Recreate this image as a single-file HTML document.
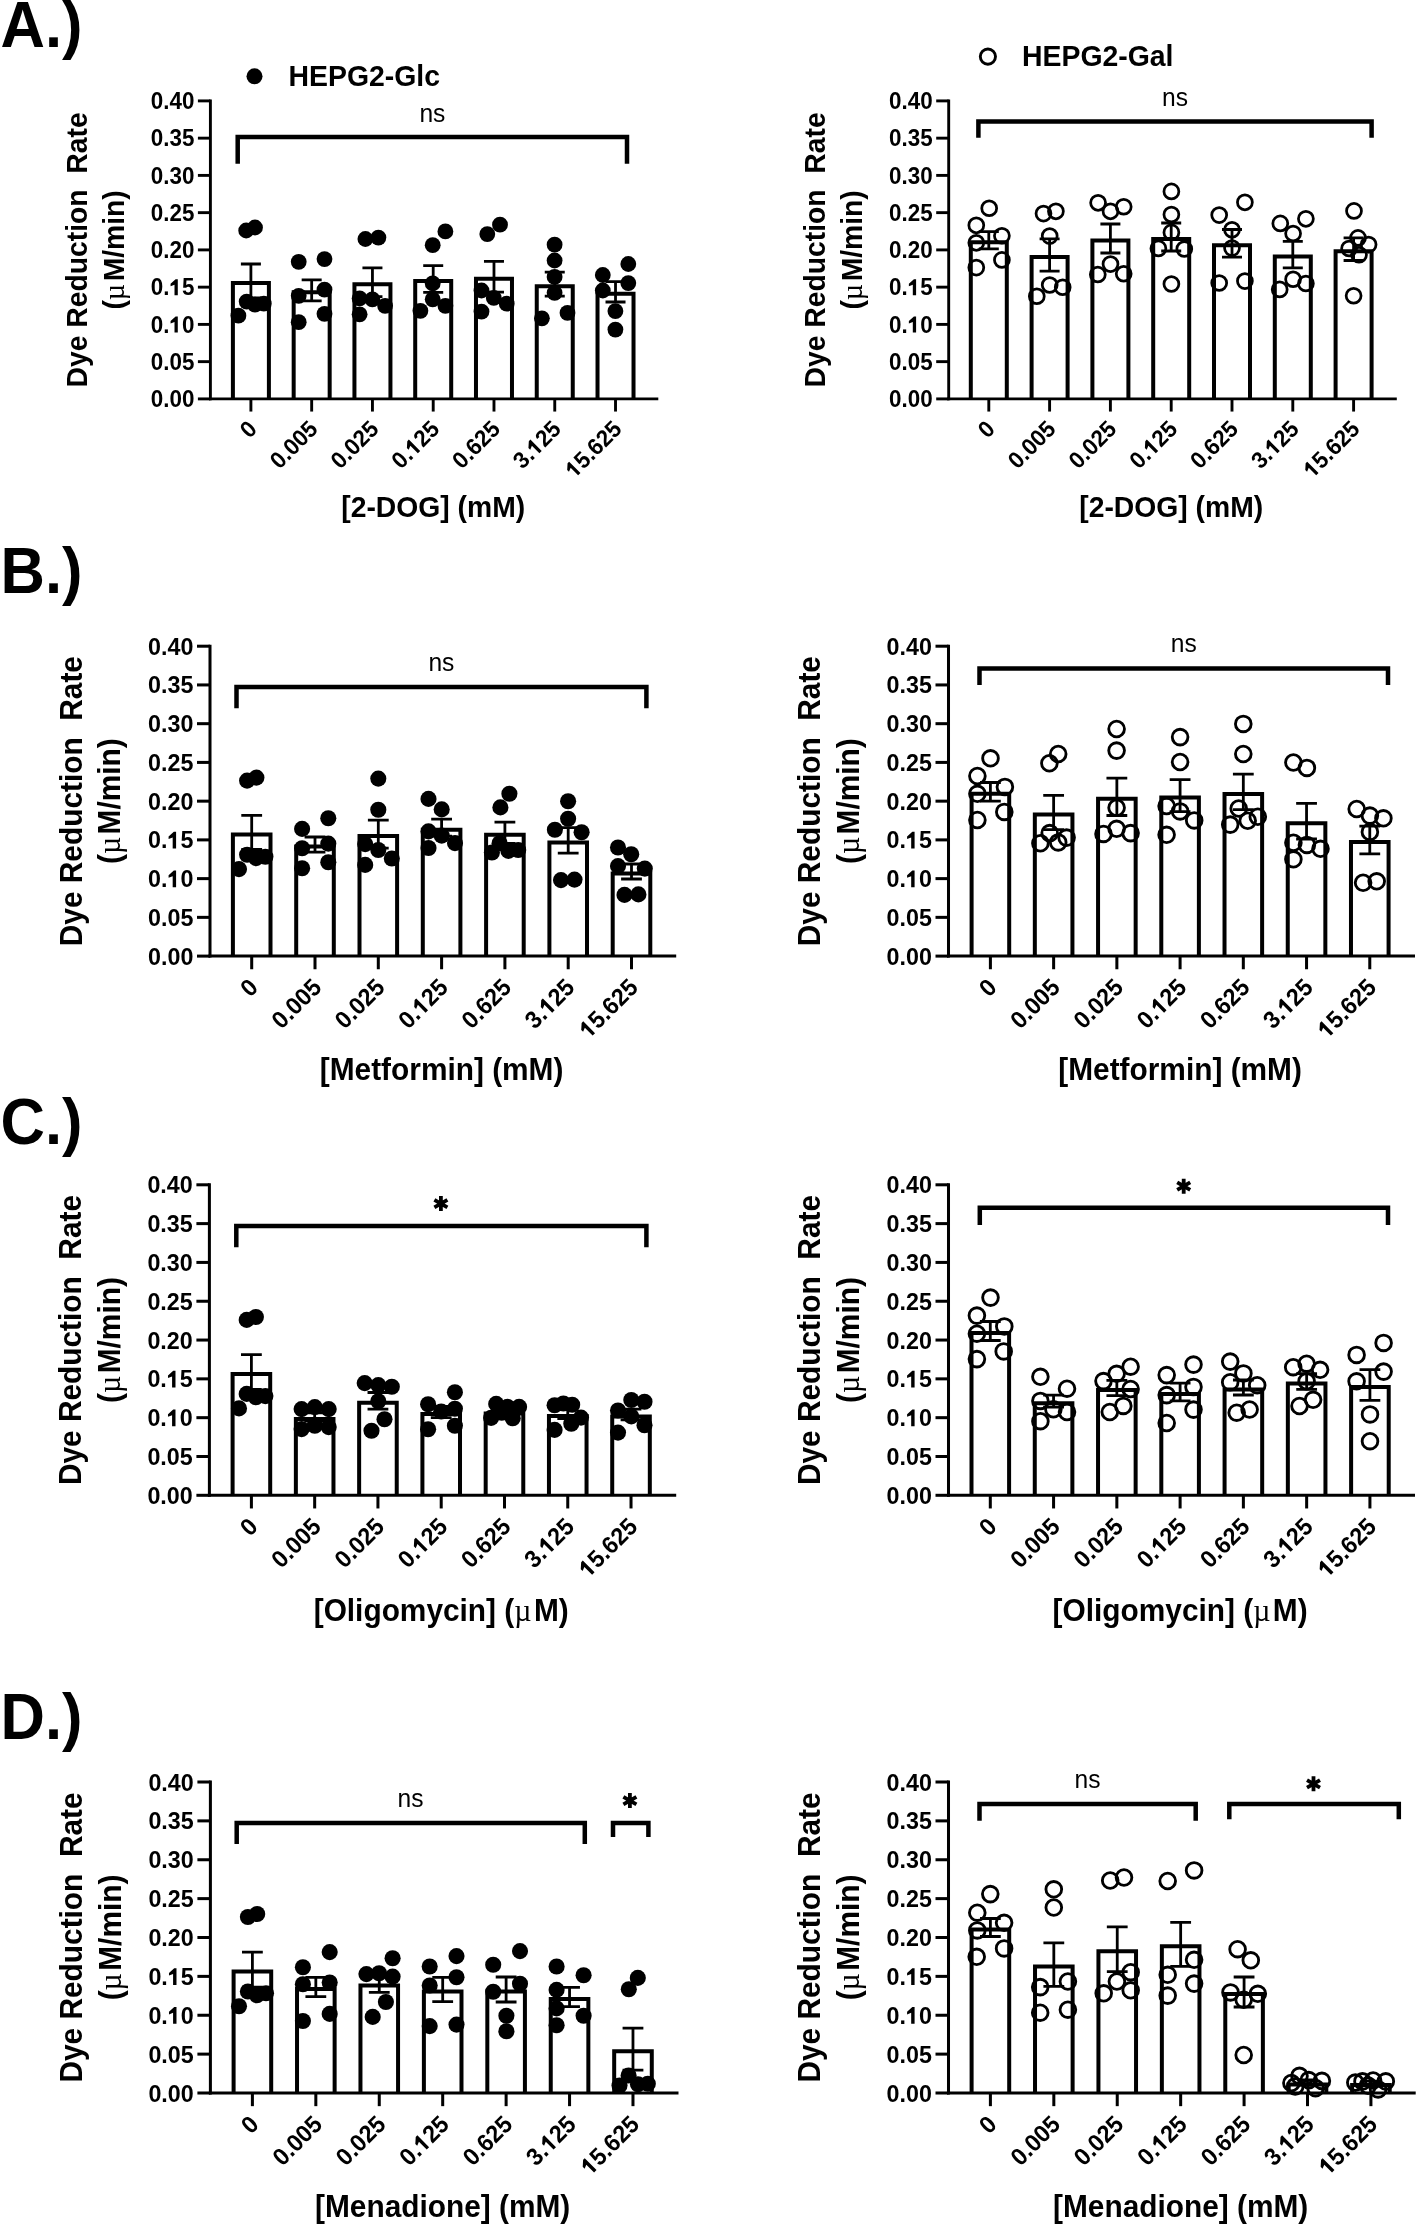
<!DOCTYPE html><html><head><meta charset="utf-8"><style>html,body{margin:0;padding:0;background:#fff;}svg{display:block;filter:grayscale(1);}</style></head><body><svg width="1418" height="2225" viewBox="0 0 1418 2225" font-family='"Liberation Sans", sans-serif'><rect width="1418" height="2225" fill="#fff"/><text transform="translate(0.5 47) scale(1 1.04)" font-size="61.5" font-weight="bold">A.)</text><text transform="translate(0.5 592.8) scale(1 1.04)" font-size="61.5" font-weight="bold">B.)</text><text transform="translate(0.5 1143.6) scale(1 1.04)" font-size="61.5" font-weight="bold">C.)</text><text transform="translate(0.5 1738.8) scale(1 1.04)" font-size="61.5" font-weight="bold">D.)</text><circle cx="254.5" cy="76.3" r="8.0" fill="#000"/><text transform="translate(288.5 86) scale(1 1.04)" font-size="28.4" font-weight="bold">HEPG2-Glc</text><circle cx="987.9" cy="56.6" r="7.6" fill="#fff" stroke="#000" stroke-width="2.9"/><text transform="translate(1022 66.1) scale(1 1.04)" font-size="28.4" font-weight="bold">HEPG2-Gal</text><g><path d="M210.4 99.45V400.35" stroke="#000" stroke-width="2.9" fill="none"/><path d="M208.95 398.9H658.3" stroke="#000" stroke-width="2.9" fill="none"/><path d="M197.9 398.9H210.4" stroke="#000" stroke-width="2.9"/><text transform="translate(194.4 407.1) scale(1 1.04)" font-size="22.4" font-weight="bold" text-anchor="end">0.00</text><path d="M197.9 361.65H210.4" stroke="#000" stroke-width="2.9"/><text transform="translate(194.4 369.85) scale(1 1.04)" font-size="22.4" font-weight="bold" text-anchor="end">0.05</text><path d="M197.9 324.4H210.4" stroke="#000" stroke-width="2.9"/><g transform="translate(194.4 332.6) scale(1 1.04)"><text font-size="22.4" font-weight="bold" text-anchor="end">0. 0</text><path transform="translate(-24.92 0) scale(0.01094 -0.01094)" d="M460 0L460 930L100 790L100 1015L560 1409L760 1409L760 0Z"/></g><path d="M197.9 287.15H210.4" stroke="#000" stroke-width="2.9"/><g transform="translate(194.4 295.35) scale(1 1.04)"><text font-size="22.4" font-weight="bold" text-anchor="end">0. 5</text><path transform="translate(-24.92 0) scale(0.01094 -0.01094)" d="M460 0L460 930L100 790L100 1015L560 1409L760 1409L760 0Z"/></g><path d="M197.9 249.9H210.4" stroke="#000" stroke-width="2.9"/><text transform="translate(194.4 258.1) scale(1 1.04)" font-size="22.4" font-weight="bold" text-anchor="end">0.20</text><path d="M197.9 212.65H210.4" stroke="#000" stroke-width="2.9"/><text transform="translate(194.4 220.85) scale(1 1.04)" font-size="22.4" font-weight="bold" text-anchor="end">0.25</text><path d="M197.9 175.4H210.4" stroke="#000" stroke-width="2.9"/><text transform="translate(194.4 183.6) scale(1 1.04)" font-size="22.4" font-weight="bold" text-anchor="end">0.30</text><path d="M197.9 138.15H210.4" stroke="#000" stroke-width="2.9"/><text transform="translate(194.4 146.35) scale(1 1.04)" font-size="22.4" font-weight="bold" text-anchor="end">0.35</text><path d="M197.9 100.9H210.4" stroke="#000" stroke-width="2.9"/><text transform="translate(194.4 109.1) scale(1 1.04)" font-size="22.4" font-weight="bold" text-anchor="end">0.40</text><path d="M250.9 398.9V411.55" stroke="#000" stroke-width="2.9"/><text transform="translate(258.4 430.4) rotate(-45) scale(1 1.04)" font-size="22.4" font-weight="bold" text-anchor="end">0</text><path d="M311.67 398.9V411.55" stroke="#000" stroke-width="2.9"/><text transform="translate(319.17 430.4) rotate(-45) scale(1 1.04)" font-size="22.4" font-weight="bold" text-anchor="end">0.005</text><path d="M372.44 398.9V411.55" stroke="#000" stroke-width="2.9"/><text transform="translate(379.94 430.4) rotate(-45) scale(1 1.04)" font-size="22.4" font-weight="bold" text-anchor="end">0.025</text><path d="M433.21 398.9V411.55" stroke="#000" stroke-width="2.9"/><g transform="translate(440.71 430.4) rotate(-45) scale(1 1.04)"><text font-size="22.4" font-weight="bold" text-anchor="end">0. 25</text><path transform="translate(-37.37 0) scale(0.01094 -0.01094)" d="M460 0L460 930L100 790L100 1015L560 1409L760 1409L760 0Z"/></g><path d="M493.98 398.9V411.55" stroke="#000" stroke-width="2.9"/><text transform="translate(501.48 430.4) rotate(-45) scale(1 1.04)" font-size="22.4" font-weight="bold" text-anchor="end">0.625</text><path d="M554.75 398.9V411.55" stroke="#000" stroke-width="2.9"/><g transform="translate(562.25 430.4) rotate(-45) scale(1 1.04)"><text font-size="22.4" font-weight="bold" text-anchor="end">3. 25</text><path transform="translate(-37.37 0) scale(0.01094 -0.01094)" d="M460 0L460 930L100 790L100 1015L560 1409L760 1409L760 0Z"/></g><path d="M615.52 398.9V411.55" stroke="#000" stroke-width="2.9"/><g transform="translate(623.02 430.4) rotate(-45) scale(1 1.04)"><text font-size="22.4" font-weight="bold" text-anchor="end"> 5.625</text><path transform="translate(-68.51 0) scale(0.01094 -0.01094)" d="M460 0L460 930L100 790L100 1015L560 1409L760 1409L760 0Z"/></g><text transform="translate(433.21 516.9) scale(1 1.04)" font-size="28.3" font-weight="bold" text-anchor="middle">[2-DOG] (mM)</text><text transform="translate(87 249.9) rotate(-90) scale(1 1.04)" font-size="28.3" font-weight="bold" text-anchor="middle">Dye Reduction  Rate</text><text transform="translate(124 249.9) rotate(-90) scale(1 1.04)" font-size="28.3" font-weight="bold" text-anchor="middle">(<tspan font-family="Liberation Serif" font-weight="normal" letter-spacing="2.5">µ</tspan>M/min)</text><path d="M250.9 264V298 M240.9 264H260.9 M240.9 298H260.9" stroke="#000" stroke-width="2.8" fill="none"/><path d="M232.9 398.9V283H268.9V398.9" fill="none" stroke="#000" stroke-width="4" stroke-linejoin="miter"/><path d="M311.67 279.8V300.8 M301.67 279.8H321.67 M301.67 300.8H321.67" stroke="#000" stroke-width="2.8" fill="none"/><path d="M293.67 398.9V292.3H329.67V398.9" fill="none" stroke="#000" stroke-width="4" stroke-linejoin="miter"/><path d="M372.44 267.8V296.6 M362.44 267.8H382.44 M362.44 296.6H382.44" stroke="#000" stroke-width="2.8" fill="none"/><path d="M354.44 398.9V284.2H390.44V398.9" fill="none" stroke="#000" stroke-width="4" stroke-linejoin="miter"/><path d="M433.21 265.6V292.4 M423.21 265.6H443.21 M423.21 292.4H443.21" stroke="#000" stroke-width="2.8" fill="none"/><path d="M415.21 398.9V281H451.21V398.9" fill="none" stroke="#000" stroke-width="4" stroke-linejoin="miter"/><path d="M493.98 261.3V292.1 M483.98 261.3H503.98 M483.98 292.1H503.98" stroke="#000" stroke-width="2.8" fill="none"/><path d="M475.98 398.9V278.7H511.98V398.9" fill="none" stroke="#000" stroke-width="4" stroke-linejoin="miter"/><path d="M554.75 272.2V296.2 M544.75 272.2H564.75 M544.75 296.2H564.75" stroke="#000" stroke-width="2.8" fill="none"/><path d="M536.75 398.9V286.2H572.75V398.9" fill="none" stroke="#000" stroke-width="4" stroke-linejoin="miter"/><path d="M615.52 281.6V302 M605.52 281.6H625.52 M605.52 302H625.52" stroke="#000" stroke-width="2.8" fill="none"/><path d="M597.52 398.9V293.8H633.52V398.9" fill="none" stroke="#000" stroke-width="4" stroke-linejoin="miter"/><circle cx="246.2" cy="230.5" r="7.9"/><circle cx="255" cy="227.5" r="7.9"/><circle cx="246.7" cy="301.6" r="7.9"/><circle cx="255" cy="304.6" r="7.9"/><circle cx="263.8" cy="303.7" r="7.9"/><circle cx="238.4" cy="315.7" r="7.9"/><circle cx="298.7" cy="261.8" r="7.9"/><circle cx="324.5" cy="259.1" r="7.9"/><circle cx="324.5" cy="289.6" r="7.9"/><circle cx="298.7" cy="295.8" r="7.9"/><circle cx="324.5" cy="313.8" r="7.9"/><circle cx="298.7" cy="322.2" r="7.9"/><circle cx="365.4" cy="239" r="7.9"/><circle cx="378.4" cy="237.6" r="7.9"/><circle cx="359.6" cy="298.4" r="7.9"/><circle cx="372.4" cy="299.3" r="7.9"/><circle cx="385.1" cy="305.8" r="7.9"/><circle cx="359.6" cy="314.3" r="7.9"/><circle cx="432.7" cy="245.2" r="7.9"/><circle cx="445.4" cy="231.4" r="7.9"/><circle cx="432.7" cy="283.4" r="7.9"/><circle cx="432.7" cy="299.3" r="7.9"/><circle cx="420.4" cy="310.8" r="7.9"/><circle cx="445.4" cy="305.8" r="7.9"/><circle cx="487.3" cy="234.1" r="7.9"/><circle cx="500" cy="224.7" r="7.9"/><circle cx="481.5" cy="290.5" r="7.9"/><circle cx="493.8" cy="297.9" r="7.9"/><circle cx="506.7" cy="303.7" r="7.9"/><circle cx="481.5" cy="311.6" r="7.9"/><circle cx="554.6" cy="244.7" r="7.9"/><circle cx="554.6" cy="260.5" r="7.9"/><circle cx="554.6" cy="276.9" r="7.9"/><circle cx="554.6" cy="292.8" r="7.9"/><circle cx="541.9" cy="318.3" r="7.9"/><circle cx="567.5" cy="312.9" r="7.9"/><circle cx="602.8" cy="275" r="7.9"/><circle cx="628.3" cy="264" r="7.9"/><circle cx="628.3" cy="283.1" r="7.9"/><circle cx="602.8" cy="290.5" r="7.9"/><circle cx="615.4" cy="311.1" r="7.9"/><circle cx="615.4" cy="329.6" r="7.9"/><path d="M237.7 163.7V137H627V163.7" stroke="#000" stroke-width="4.5" fill="none" stroke-linejoin="miter"/><text transform="translate(432.4 122.1) scale(1 1.04)" font-size="24.6" text-anchor="middle">ns</text></g><g><path d="M948.7 99.45V400.35" stroke="#000" stroke-width="2.9" fill="none"/><path d="M947.25 398.9H1396.8" stroke="#000" stroke-width="2.9" fill="none"/><path d="M936.2 398.9H948.7" stroke="#000" stroke-width="2.9"/><text transform="translate(932.7 407.1) scale(1 1.04)" font-size="22.4" font-weight="bold" text-anchor="end">0.00</text><path d="M936.2 361.65H948.7" stroke="#000" stroke-width="2.9"/><text transform="translate(932.7 369.85) scale(1 1.04)" font-size="22.4" font-weight="bold" text-anchor="end">0.05</text><path d="M936.2 324.4H948.7" stroke="#000" stroke-width="2.9"/><g transform="translate(932.7 332.6) scale(1 1.04)"><text font-size="22.4" font-weight="bold" text-anchor="end">0. 0</text><path transform="translate(-24.92 0) scale(0.01094 -0.01094)" d="M460 0L460 930L100 790L100 1015L560 1409L760 1409L760 0Z"/></g><path d="M936.2 287.15H948.7" stroke="#000" stroke-width="2.9"/><g transform="translate(932.7 295.35) scale(1 1.04)"><text font-size="22.4" font-weight="bold" text-anchor="end">0. 5</text><path transform="translate(-24.92 0) scale(0.01094 -0.01094)" d="M460 0L460 930L100 790L100 1015L560 1409L760 1409L760 0Z"/></g><path d="M936.2 249.9H948.7" stroke="#000" stroke-width="2.9"/><text transform="translate(932.7 258.1) scale(1 1.04)" font-size="22.4" font-weight="bold" text-anchor="end">0.20</text><path d="M936.2 212.65H948.7" stroke="#000" stroke-width="2.9"/><text transform="translate(932.7 220.85) scale(1 1.04)" font-size="22.4" font-weight="bold" text-anchor="end">0.25</text><path d="M936.2 175.4H948.7" stroke="#000" stroke-width="2.9"/><text transform="translate(932.7 183.6) scale(1 1.04)" font-size="22.4" font-weight="bold" text-anchor="end">0.30</text><path d="M936.2 138.15H948.7" stroke="#000" stroke-width="2.9"/><text transform="translate(932.7 146.35) scale(1 1.04)" font-size="22.4" font-weight="bold" text-anchor="end">0.35</text><path d="M936.2 100.9H948.7" stroke="#000" stroke-width="2.9"/><text transform="translate(932.7 109.1) scale(1 1.04)" font-size="22.4" font-weight="bold" text-anchor="end">0.40</text><path d="M988.8 398.9V411.55" stroke="#000" stroke-width="2.9"/><text transform="translate(996.3 430.4) rotate(-45) scale(1 1.04)" font-size="22.4" font-weight="bold" text-anchor="end">0</text><path d="M1049.6 398.9V411.55" stroke="#000" stroke-width="2.9"/><text transform="translate(1057.1 430.4) rotate(-45) scale(1 1.04)" font-size="22.4" font-weight="bold" text-anchor="end">0.005</text><path d="M1110.4 398.9V411.55" stroke="#000" stroke-width="2.9"/><text transform="translate(1117.9 430.4) rotate(-45) scale(1 1.04)" font-size="22.4" font-weight="bold" text-anchor="end">0.025</text><path d="M1171.2 398.9V411.55" stroke="#000" stroke-width="2.9"/><g transform="translate(1178.7 430.4) rotate(-45) scale(1 1.04)"><text font-size="22.4" font-weight="bold" text-anchor="end">0. 25</text><path transform="translate(-37.37 0) scale(0.01094 -0.01094)" d="M460 0L460 930L100 790L100 1015L560 1409L760 1409L760 0Z"/></g><path d="M1232 398.9V411.55" stroke="#000" stroke-width="2.9"/><text transform="translate(1239.5 430.4) rotate(-45) scale(1 1.04)" font-size="22.4" font-weight="bold" text-anchor="end">0.625</text><path d="M1292.8 398.9V411.55" stroke="#000" stroke-width="2.9"/><g transform="translate(1300.3 430.4) rotate(-45) scale(1 1.04)"><text font-size="22.4" font-weight="bold" text-anchor="end">3. 25</text><path transform="translate(-37.37 0) scale(0.01094 -0.01094)" d="M460 0L460 930L100 790L100 1015L560 1409L760 1409L760 0Z"/></g><path d="M1353.6 398.9V411.55" stroke="#000" stroke-width="2.9"/><g transform="translate(1361.1 430.4) rotate(-45) scale(1 1.04)"><text font-size="22.4" font-weight="bold" text-anchor="end"> 5.625</text><path transform="translate(-68.51 0) scale(0.01094 -0.01094)" d="M460 0L460 930L100 790L100 1015L560 1409L760 1409L760 0Z"/></g><text transform="translate(1171.2 516.9) scale(1 1.04)" font-size="28.3" font-weight="bold" text-anchor="middle">[2-DOG] (mM)</text><text transform="translate(825.3 249.9) rotate(-90) scale(1 1.04)" font-size="28.3" font-weight="bold" text-anchor="middle">Dye Reduction  Rate</text><text transform="translate(862.3 249.9) rotate(-90) scale(1 1.04)" font-size="28.3" font-weight="bold" text-anchor="middle">(<tspan font-family="Liberation Serif" font-weight="normal" letter-spacing="2.5">µ</tspan>M/min)</text><path d="M988.8 231.6V248.8 M978.8 231.6H998.8 M978.8 248.8H998.8" stroke="#000" stroke-width="2.8" fill="none"/><path d="M970.8 398.9V242.2H1006.8V398.9" fill="none" stroke="#000" stroke-width="4" stroke-linejoin="miter"/><path d="M1049.6 238.8V271.2 M1039.6 238.8H1059.6 M1039.6 271.2H1059.6" stroke="#000" stroke-width="2.8" fill="none"/><path d="M1031.6 398.9V257H1067.6V398.9" fill="none" stroke="#000" stroke-width="4" stroke-linejoin="miter"/><path d="M1110.4 224V253 M1100.4 224H1120.4 M1100.4 253H1120.4" stroke="#000" stroke-width="2.8" fill="none"/><path d="M1092.4 398.9V240.5H1128.4V398.9" fill="none" stroke="#000" stroke-width="4" stroke-linejoin="miter"/><path d="M1171.2 223V251 M1161.2 223H1181.2 M1161.2 251H1181.2" stroke="#000" stroke-width="2.8" fill="none"/><path d="M1153.2 398.9V239H1189.2V398.9" fill="none" stroke="#000" stroke-width="4" stroke-linejoin="miter"/><path d="M1232 229.5V257.1 M1222 229.5H1242 M1222 257.1H1242" stroke="#000" stroke-width="2.8" fill="none"/><path d="M1214 398.9V245.3H1250V398.9" fill="none" stroke="#000" stroke-width="4" stroke-linejoin="miter"/><path d="M1292.8 241.4V267.8 M1282.8 241.4H1302.8 M1282.8 267.8H1302.8" stroke="#000" stroke-width="2.8" fill="none"/><path d="M1274.8 398.9V256.6H1310.8V398.9" fill="none" stroke="#000" stroke-width="4" stroke-linejoin="miter"/><path d="M1353.6 237.9V260.5 M1343.6 237.9H1363.6 M1343.6 260.5H1363.6" stroke="#000" stroke-width="2.8" fill="none"/><path d="M1335.6 398.9V251.2H1371.6V398.9" fill="none" stroke="#000" stroke-width="4" stroke-linejoin="miter"/><circle cx="989.2" cy="208.2" r="7.45" fill="none" stroke="#000" stroke-width="2.75"/><circle cx="976.3" cy="225.3" r="7.45" fill="none" stroke="#000" stroke-width="2.75"/><circle cx="1001.9" cy="235.7" r="7.45" fill="none" stroke="#000" stroke-width="2.75"/><circle cx="976.3" cy="242.8" r="7.45" fill="none" stroke="#000" stroke-width="2.75"/><circle cx="1001.9" cy="259.9" r="7.45" fill="none" stroke="#000" stroke-width="2.75"/><circle cx="976.3" cy="267.6" r="7.45" fill="none" stroke="#000" stroke-width="2.75"/><circle cx="1043.5" cy="213.6" r="7.45" fill="none" stroke="#000" stroke-width="2.75"/><circle cx="1055.9" cy="211.3" r="7.45" fill="none" stroke="#000" stroke-width="2.75"/><circle cx="1049.7" cy="236.1" r="7.45" fill="none" stroke="#000" stroke-width="2.75"/><circle cx="1049.7" cy="285" r="7.45" fill="none" stroke="#000" stroke-width="2.75"/><circle cx="1062.7" cy="287.3" r="7.45" fill="none" stroke="#000" stroke-width="2.75"/><circle cx="1036.8" cy="296.2" r="7.45" fill="none" stroke="#000" stroke-width="2.75"/><circle cx="1098.1" cy="202.8" r="7.45" fill="none" stroke="#000" stroke-width="2.75"/><circle cx="1110.5" cy="211.3" r="7.45" fill="none" stroke="#000" stroke-width="2.75"/><circle cx="1123.7" cy="206.7" r="7.45" fill="none" stroke="#000" stroke-width="2.75"/><circle cx="1110.5" cy="264.1" r="7.45" fill="none" stroke="#000" stroke-width="2.75"/><circle cx="1097.8" cy="274.5" r="7.45" fill="none" stroke="#000" stroke-width="2.75"/><circle cx="1123.7" cy="273.8" r="7.45" fill="none" stroke="#000" stroke-width="2.75"/><circle cx="1171.4" cy="191.4" r="7.45" fill="none" stroke="#000" stroke-width="2.75"/><circle cx="1171.4" cy="214.5" r="7.45" fill="none" stroke="#000" stroke-width="2.75"/><circle cx="1171.4" cy="232.4" r="7.45" fill="none" stroke="#000" stroke-width="2.75"/><circle cx="1158.4" cy="248.4" r="7.45" fill="none" stroke="#000" stroke-width="2.75"/><circle cx="1184.3" cy="249" r="7.45" fill="none" stroke="#000" stroke-width="2.75"/><circle cx="1171.4" cy="284" r="7.45" fill="none" stroke="#000" stroke-width="2.75"/><circle cx="1219.2" cy="215.1" r="7.45" fill="none" stroke="#000" stroke-width="2.75"/><circle cx="1244.9" cy="202.3" r="7.45" fill="none" stroke="#000" stroke-width="2.75"/><circle cx="1232" cy="229.8" r="7.45" fill="none" stroke="#000" stroke-width="2.75"/><circle cx="1232" cy="248.1" r="7.45" fill="none" stroke="#000" stroke-width="2.75"/><circle cx="1219.2" cy="283" r="7.45" fill="none" stroke="#000" stroke-width="2.75"/><circle cx="1244.9" cy="281.1" r="7.45" fill="none" stroke="#000" stroke-width="2.75"/><circle cx="1280.3" cy="223.4" r="7.45" fill="none" stroke="#000" stroke-width="2.75"/><circle cx="1305.9" cy="218.8" r="7.45" fill="none" stroke="#000" stroke-width="2.75"/><circle cx="1293.1" cy="233.5" r="7.45" fill="none" stroke="#000" stroke-width="2.75"/><circle cx="1293.1" cy="279.3" r="7.45" fill="none" stroke="#000" stroke-width="2.75"/><circle cx="1279.7" cy="289.4" r="7.45" fill="none" stroke="#000" stroke-width="2.75"/><circle cx="1305.9" cy="283.5" r="7.45" fill="none" stroke="#000" stroke-width="2.75"/><circle cx="1354" cy="210.9" r="7.45" fill="none" stroke="#000" stroke-width="2.75"/><circle cx="1358" cy="237.9" r="7.45" fill="none" stroke="#000" stroke-width="2.75"/><circle cx="1368.6" cy="244.6" r="7.45" fill="none" stroke="#000" stroke-width="2.75"/><circle cx="1349.1" cy="248.5" r="7.45" fill="none" stroke="#000" stroke-width="2.75"/><circle cx="1359" cy="254.7" r="7.45" fill="none" stroke="#000" stroke-width="2.75"/><circle cx="1353.6" cy="295.8" r="7.45" fill="none" stroke="#000" stroke-width="2.75"/><path d="M978.4 137.8V121.4H1371.6V137.8" stroke="#000" stroke-width="4.5" fill="none" stroke-linejoin="miter"/><text transform="translate(1175.1 106.4) scale(1 1.04)" font-size="24.6" text-anchor="middle">ns</text></g><g><path d="M210 644.69V957.61" stroke="#000" stroke-width="3.02" fill="none"/><path d="M208.49 956.1H676.2" stroke="#000" stroke-width="3.02" fill="none"/><path d="M197 956.1H210" stroke="#000" stroke-width="3.02"/><text transform="translate(193.36 964.63) scale(1 1.04)" font-size="23.3" font-weight="bold" text-anchor="end">0.00</text><path d="M197 917.36H210" stroke="#000" stroke-width="3.02"/><text transform="translate(193.36 925.89) scale(1 1.04)" font-size="23.3" font-weight="bold" text-anchor="end">0.05</text><path d="M197 878.62H210" stroke="#000" stroke-width="3.02"/><g transform="translate(193.36 887.15) scale(1 1.04)"><text font-size="23.3" font-weight="bold" text-anchor="end">0. 0</text><path transform="translate(-25.91 0) scale(0.01137 -0.01137)" d="M460 0L460 930L100 790L100 1015L560 1409L760 1409L760 0Z"/></g><path d="M197 839.89H210" stroke="#000" stroke-width="3.02"/><g transform="translate(193.36 848.42) scale(1 1.04)"><text font-size="23.3" font-weight="bold" text-anchor="end">0. 5</text><path transform="translate(-25.91 0) scale(0.01137 -0.01137)" d="M460 0L460 930L100 790L100 1015L560 1409L760 1409L760 0Z"/></g><path d="M197 801.15H210" stroke="#000" stroke-width="3.02"/><text transform="translate(193.36 809.68) scale(1 1.04)" font-size="23.3" font-weight="bold" text-anchor="end">0.20</text><path d="M197 762.41H210" stroke="#000" stroke-width="3.02"/><text transform="translate(193.36 770.94) scale(1 1.04)" font-size="23.3" font-weight="bold" text-anchor="end">0.25</text><path d="M197 723.68H210" stroke="#000" stroke-width="3.02"/><text transform="translate(193.36 732.2) scale(1 1.04)" font-size="23.3" font-weight="bold" text-anchor="end">0.30</text><path d="M197 684.94H210" stroke="#000" stroke-width="3.02"/><text transform="translate(193.36 693.47) scale(1 1.04)" font-size="23.3" font-weight="bold" text-anchor="end">0.35</text><path d="M197 646.2H210" stroke="#000" stroke-width="3.02"/><text transform="translate(193.36 654.73) scale(1 1.04)" font-size="23.3" font-weight="bold" text-anchor="end">0.40</text><path d="M251.7 956.1V969.26" stroke="#000" stroke-width="3.02"/><text transform="translate(259.5 988.86) rotate(-45) scale(1 1.04)" font-size="23.3" font-weight="bold" text-anchor="end">0</text><path d="M315 956.1V969.26" stroke="#000" stroke-width="3.02"/><text transform="translate(322.8 988.86) rotate(-45) scale(1 1.04)" font-size="23.3" font-weight="bold" text-anchor="end">0.005</text><path d="M378.3 956.1V969.26" stroke="#000" stroke-width="3.02"/><text transform="translate(386.1 988.86) rotate(-45) scale(1 1.04)" font-size="23.3" font-weight="bold" text-anchor="end">0.025</text><path d="M441.6 956.1V969.26" stroke="#000" stroke-width="3.02"/><g transform="translate(449.4 988.86) rotate(-45) scale(1 1.04)"><text font-size="23.3" font-weight="bold" text-anchor="end">0. 25</text><path transform="translate(-38.87 0) scale(0.01137 -0.01137)" d="M460 0L460 930L100 790L100 1015L560 1409L760 1409L760 0Z"/></g><path d="M504.9 956.1V969.26" stroke="#000" stroke-width="3.02"/><text transform="translate(512.7 988.86) rotate(-45) scale(1 1.04)" font-size="23.3" font-weight="bold" text-anchor="end">0.625</text><path d="M568.2 956.1V969.26" stroke="#000" stroke-width="3.02"/><g transform="translate(576 988.86) rotate(-45) scale(1 1.04)"><text font-size="23.3" font-weight="bold" text-anchor="end">3. 25</text><path transform="translate(-38.87 0) scale(0.01137 -0.01137)" d="M460 0L460 930L100 790L100 1015L560 1409L760 1409L760 0Z"/></g><path d="M631.5 956.1V969.26" stroke="#000" stroke-width="3.02"/><g transform="translate(639.3 988.86) rotate(-45) scale(1 1.04)"><text font-size="23.3" font-weight="bold" text-anchor="end"> 5.625</text><path transform="translate(-71.25 0) scale(0.01137 -0.01137)" d="M460 0L460 930L100 790L100 1015L560 1409L760 1409L760 0Z"/></g><text transform="translate(441.6 1079.5) scale(1 1.04)" font-size="29.85" font-weight="bold" text-anchor="middle">[Metformin] (mM)</text><text transform="translate(81.66 801.15) rotate(-90) scale(1 1.04)" font-size="29.85" font-weight="bold" text-anchor="middle">Dye Reduction  Rate</text><text transform="translate(120.14 801.15) rotate(-90) scale(1 1.04)" font-size="29.85" font-weight="bold" text-anchor="middle">(<tspan font-family="Liberation Serif" font-weight="normal" letter-spacing="2.5">µ</tspan>M/min)</text><path d="M251.7 815.3V849.5 M241.3 815.3H262.1 M241.3 849.5H262.1" stroke="#000" stroke-width="2.8" fill="none"/><path d="M232.9 956.1V834.4H270.5V956.1" fill="none" stroke="#000" stroke-width="4" stroke-linejoin="miter"/><path d="M315 837V852.2 M304.6 837H325.4 M304.6 852.2H325.4" stroke="#000" stroke-width="2.8" fill="none"/><path d="M296.2 956.1V846.6H333.8V956.1" fill="none" stroke="#000" stroke-width="4" stroke-linejoin="miter"/><path d="M378.3 820.1V848.1 M367.9 820.1H388.7 M367.9 848.1H388.7" stroke="#000" stroke-width="2.8" fill="none"/><path d="M359.5 956.1V836.1H397.1V956.1" fill="none" stroke="#000" stroke-width="4" stroke-linejoin="miter"/><path d="M441.6 819.2V836.2 M431.2 819.2H452 M431.2 836.2H452" stroke="#000" stroke-width="2.8" fill="none"/><path d="M422.8 956.1V829.7H460.4V956.1" fill="none" stroke="#000" stroke-width="4" stroke-linejoin="miter"/><path d="M504.9 822.1V843.5 M494.5 822.1H515.3 M494.5 843.5H515.3" stroke="#000" stroke-width="2.8" fill="none"/><path d="M486.1 956.1V834.8H523.7V956.1" fill="none" stroke="#000" stroke-width="4" stroke-linejoin="miter"/><path d="M568.2 827.6V853.2 M557.8 827.6H578.6 M557.8 853.2H578.6" stroke="#000" stroke-width="2.8" fill="none"/><path d="M549.4 956.1V842.4H587V956.1" fill="none" stroke="#000" stroke-width="4" stroke-linejoin="miter"/><path d="M631.5 864V879 M621.1 864H641.9 M621.1 879H641.9" stroke="#000" stroke-width="2.8" fill="none"/><path d="M612.7 956.1V873.5H650.3V956.1" fill="none" stroke="#000" stroke-width="4" stroke-linejoin="miter"/><circle cx="247.1" cy="780.6" r="8.05"/><circle cx="256.4" cy="777.6" r="8.05"/><circle cx="247.1" cy="854.7" r="8.05"/><circle cx="256.1" cy="858.1" r="8.05"/><circle cx="265.4" cy="856.8" r="8.05"/><circle cx="239" cy="869.1" r="8.05"/><circle cx="302.1" cy="828.9" r="8.05"/><circle cx="328.3" cy="818.2" r="8.05"/><circle cx="302.1" cy="848.3" r="8.05"/><circle cx="328.3" cy="843.6" r="8.05"/><circle cx="328.3" cy="862.2" r="8.05"/><circle cx="302.1" cy="868.3" r="8.05"/><circle cx="378.3" cy="778.6" r="8.05"/><circle cx="378.3" cy="809.7" r="8.05"/><circle cx="365.2" cy="844.1" r="8.05"/><circle cx="378.3" cy="850" r="8.05"/><circle cx="391.8" cy="858.5" r="8.05"/><circle cx="365.2" cy="864.9" r="8.05"/><circle cx="428.5" cy="798.9" r="8.05"/><circle cx="441.7" cy="809.4" r="8.05"/><circle cx="428.5" cy="831.4" r="8.05"/><circle cx="441.7" cy="835.6" r="8.05"/><circle cx="428.5" cy="848" r="8.05"/><circle cx="455" cy="843.1" r="8.05"/><circle cx="509.4" cy="793.8" r="8.05"/><circle cx="500.4" cy="807.4" r="8.05"/><circle cx="499.6" cy="843.2" r="8.05"/><circle cx="491.9" cy="852.5" r="8.05"/><circle cx="508.4" cy="850.9" r="8.05"/><circle cx="518.2" cy="850" r="8.05"/><circle cx="568.1" cy="801.3" r="8.05"/><circle cx="568.1" cy="818.7" r="8.05"/><circle cx="554.9" cy="829.7" r="8.05"/><circle cx="581.6" cy="832.2" r="8.05"/><circle cx="561" cy="880.1" r="8.05"/><circle cx="574.5" cy="879.6" r="8.05"/><circle cx="618" cy="847.5" r="8.05"/><circle cx="631.2" cy="854.2" r="8.05"/><circle cx="618" cy="866.1" r="8.05"/><circle cx="644.8" cy="868.6" r="8.05"/><circle cx="624.5" cy="894.9" r="8.05"/><circle cx="638.4" cy="894.4" r="8.05"/><path d="M236.5 708.3V687H646.4V708.3" stroke="#000" stroke-width="4.5" fill="none" stroke-linejoin="miter"/><text transform="translate(441.4 671.1) scale(1 1.04)" font-size="24.6" text-anchor="middle">ns</text></g><g><path d="M948.5 644.69V957.61" stroke="#000" stroke-width="3.02" fill="none"/><path d="M946.99 956.1H1415" stroke="#000" stroke-width="3.02" fill="none"/><path d="M935.5 956.1H948.5" stroke="#000" stroke-width="3.02"/><text transform="translate(931.86 964.63) scale(1 1.04)" font-size="23.3" font-weight="bold" text-anchor="end">0.00</text><path d="M935.5 917.36H948.5" stroke="#000" stroke-width="3.02"/><text transform="translate(931.86 925.89) scale(1 1.04)" font-size="23.3" font-weight="bold" text-anchor="end">0.05</text><path d="M935.5 878.62H948.5" stroke="#000" stroke-width="3.02"/><g transform="translate(931.86 887.15) scale(1 1.04)"><text font-size="23.3" font-weight="bold" text-anchor="end">0. 0</text><path transform="translate(-25.91 0) scale(0.01137 -0.01137)" d="M460 0L460 930L100 790L100 1015L560 1409L760 1409L760 0Z"/></g><path d="M935.5 839.89H948.5" stroke="#000" stroke-width="3.02"/><g transform="translate(931.86 848.42) scale(1 1.04)"><text font-size="23.3" font-weight="bold" text-anchor="end">0. 5</text><path transform="translate(-25.91 0) scale(0.01137 -0.01137)" d="M460 0L460 930L100 790L100 1015L560 1409L760 1409L760 0Z"/></g><path d="M935.5 801.15H948.5" stroke="#000" stroke-width="3.02"/><text transform="translate(931.86 809.68) scale(1 1.04)" font-size="23.3" font-weight="bold" text-anchor="end">0.20</text><path d="M935.5 762.41H948.5" stroke="#000" stroke-width="3.02"/><text transform="translate(931.86 770.94) scale(1 1.04)" font-size="23.3" font-weight="bold" text-anchor="end">0.25</text><path d="M935.5 723.68H948.5" stroke="#000" stroke-width="3.02"/><text transform="translate(931.86 732.2) scale(1 1.04)" font-size="23.3" font-weight="bold" text-anchor="end">0.30</text><path d="M935.5 684.94H948.5" stroke="#000" stroke-width="3.02"/><text transform="translate(931.86 693.47) scale(1 1.04)" font-size="23.3" font-weight="bold" text-anchor="end">0.35</text><path d="M935.5 646.2H948.5" stroke="#000" stroke-width="3.02"/><text transform="translate(931.86 654.73) scale(1 1.04)" font-size="23.3" font-weight="bold" text-anchor="end">0.40</text><path d="M990.4 956.1V969.26" stroke="#000" stroke-width="3.02"/><text transform="translate(998.2 988.86) rotate(-45) scale(1 1.04)" font-size="23.3" font-weight="bold" text-anchor="end">0</text><path d="M1053.63 956.1V969.26" stroke="#000" stroke-width="3.02"/><text transform="translate(1061.43 988.86) rotate(-45) scale(1 1.04)" font-size="23.3" font-weight="bold" text-anchor="end">0.005</text><path d="M1116.86 956.1V969.26" stroke="#000" stroke-width="3.02"/><text transform="translate(1124.66 988.86) rotate(-45) scale(1 1.04)" font-size="23.3" font-weight="bold" text-anchor="end">0.025</text><path d="M1180.09 956.1V969.26" stroke="#000" stroke-width="3.02"/><g transform="translate(1187.89 988.86) rotate(-45) scale(1 1.04)"><text font-size="23.3" font-weight="bold" text-anchor="end">0. 25</text><path transform="translate(-38.87 0) scale(0.01137 -0.01137)" d="M460 0L460 930L100 790L100 1015L560 1409L760 1409L760 0Z"/></g><path d="M1243.32 956.1V969.26" stroke="#000" stroke-width="3.02"/><text transform="translate(1251.12 988.86) rotate(-45) scale(1 1.04)" font-size="23.3" font-weight="bold" text-anchor="end">0.625</text><path d="M1306.55 956.1V969.26" stroke="#000" stroke-width="3.02"/><g transform="translate(1314.35 988.86) rotate(-45) scale(1 1.04)"><text font-size="23.3" font-weight="bold" text-anchor="end">3. 25</text><path transform="translate(-38.87 0) scale(0.01137 -0.01137)" d="M460 0L460 930L100 790L100 1015L560 1409L760 1409L760 0Z"/></g><path d="M1369.78 956.1V969.26" stroke="#000" stroke-width="3.02"/><g transform="translate(1377.58 988.86) rotate(-45) scale(1 1.04)"><text font-size="23.3" font-weight="bold" text-anchor="end"> 5.625</text><path transform="translate(-71.25 0) scale(0.01137 -0.01137)" d="M460 0L460 930L100 790L100 1015L560 1409L760 1409L760 0Z"/></g><text transform="translate(1180.09 1079.5) scale(1 1.04)" font-size="29.85" font-weight="bold" text-anchor="middle">[Metformin] (mM)</text><text transform="translate(820.16 801.15) rotate(-90) scale(1 1.04)" font-size="29.85" font-weight="bold" text-anchor="middle">Dye Reduction  Rate</text><text transform="translate(858.64 801.15) rotate(-90) scale(1 1.04)" font-size="29.85" font-weight="bold" text-anchor="middle">(<tspan font-family="Liberation Serif" font-weight="normal" letter-spacing="2.5">µ</tspan>M/min)</text><path d="M990.4 782.5V801.1 M980 782.5H1000.8 M980 801.1H1000.8" stroke="#000" stroke-width="2.8" fill="none"/><path d="M971.6 956.1V793.8H1009.2V956.1" fill="none" stroke="#000" stroke-width="4" stroke-linejoin="miter"/><path d="M1053.63 795.3V829.7 M1043.23 795.3H1064.03 M1043.23 829.7H1064.03" stroke="#000" stroke-width="2.8" fill="none"/><path d="M1034.83 956.1V814.5H1072.43V956.1" fill="none" stroke="#000" stroke-width="4" stroke-linejoin="miter"/><path d="M1116.86 778.1V815.5 M1106.46 778.1H1127.26 M1106.46 815.5H1127.26" stroke="#000" stroke-width="2.8" fill="none"/><path d="M1098.06 956.1V798.8H1135.66V956.1" fill="none" stroke="#000" stroke-width="4" stroke-linejoin="miter"/><path d="M1180.09 779.6V811.6 M1169.69 779.6H1190.49 M1169.69 811.6H1190.49" stroke="#000" stroke-width="2.8" fill="none"/><path d="M1161.29 956.1V797.6H1198.89V956.1" fill="none" stroke="#000" stroke-width="4" stroke-linejoin="miter"/><path d="M1243.32 774.1V809.7 M1232.92 774.1H1253.72 M1232.92 809.7H1253.72" stroke="#000" stroke-width="2.8" fill="none"/><path d="M1224.52 956.1V793.9H1262.12V956.1" fill="none" stroke="#000" stroke-width="4" stroke-linejoin="miter"/><path d="M1306.55 803.4V839 M1296.15 803.4H1316.95 M1296.15 839H1316.95" stroke="#000" stroke-width="2.8" fill="none"/><path d="M1287.75 956.1V823.2H1325.35V956.1" fill="none" stroke="#000" stroke-width="4" stroke-linejoin="miter"/><path d="M1369.78 826.2V853.8 M1359.38 826.2H1380.18 M1359.38 853.8H1380.18" stroke="#000" stroke-width="2.8" fill="none"/><path d="M1350.98 956.1V842H1388.58V956.1" fill="none" stroke="#000" stroke-width="4" stroke-linejoin="miter"/><circle cx="990.5" cy="758.3" r="7.85" fill="none" stroke="#000" stroke-width="2.85"/><circle cx="977.4" cy="776" r="7.85" fill="none" stroke="#000" stroke-width="2.85"/><circle cx="1004.9" cy="786.9" r="7.85" fill="none" stroke="#000" stroke-width="2.85"/><circle cx="977.4" cy="793.8" r="7.85" fill="none" stroke="#000" stroke-width="2.85"/><circle cx="1004.3" cy="811.9" r="7.85" fill="none" stroke="#000" stroke-width="2.85"/><circle cx="977.4" cy="820" r="7.85" fill="none" stroke="#000" stroke-width="2.85"/><circle cx="1049.4" cy="763.2" r="7.85" fill="none" stroke="#000" stroke-width="2.85"/><circle cx="1058.2" cy="754" r="7.85" fill="none" stroke="#000" stroke-width="2.85"/><circle cx="1049.7" cy="833.1" r="7.85" fill="none" stroke="#000" stroke-width="2.85"/><circle cx="1066.6" cy="837.6" r="7.85" fill="none" stroke="#000" stroke-width="2.85"/><circle cx="1040.4" cy="843.2" r="7.85" fill="none" stroke="#000" stroke-width="2.85"/><circle cx="1058.2" cy="842.4" r="7.85" fill="none" stroke="#000" stroke-width="2.85"/><circle cx="1116.6" cy="729" r="7.85" fill="none" stroke="#000" stroke-width="2.85"/><circle cx="1116.6" cy="750.6" r="7.85" fill="none" stroke="#000" stroke-width="2.85"/><circle cx="1116.6" cy="807.7" r="7.85" fill="none" stroke="#000" stroke-width="2.85"/><circle cx="1116.6" cy="828.8" r="7.85" fill="none" stroke="#000" stroke-width="2.85"/><circle cx="1103.5" cy="833.9" r="7.85" fill="none" stroke="#000" stroke-width="2.85"/><circle cx="1130.6" cy="833.1" r="7.85" fill="none" stroke="#000" stroke-width="2.85"/><circle cx="1180.1" cy="737.1" r="7.85" fill="none" stroke="#000" stroke-width="2.85"/><circle cx="1180.1" cy="762" r="7.85" fill="none" stroke="#000" stroke-width="2.85"/><circle cx="1166.6" cy="806" r="7.85" fill="none" stroke="#000" stroke-width="2.85"/><circle cx="1180.1" cy="811.4" r="7.85" fill="none" stroke="#000" stroke-width="2.85"/><circle cx="1194.2" cy="820.4" r="7.85" fill="none" stroke="#000" stroke-width="2.85"/><circle cx="1166.6" cy="834.8" r="7.85" fill="none" stroke="#000" stroke-width="2.85"/><circle cx="1243.3" cy="723.9" r="7.85" fill="none" stroke="#000" stroke-width="2.85"/><circle cx="1243.3" cy="754" r="7.85" fill="none" stroke="#000" stroke-width="2.85"/><circle cx="1238.7" cy="808.5" r="7.85" fill="none" stroke="#000" stroke-width="2.85"/><circle cx="1230.2" cy="824.6" r="7.85" fill="none" stroke="#000" stroke-width="2.85"/><circle cx="1247.7" cy="820.7" r="7.85" fill="none" stroke="#000" stroke-width="2.85"/><circle cx="1257.8" cy="816.7" r="7.85" fill="none" stroke="#000" stroke-width="2.85"/><circle cx="1293.4" cy="762.5" r="7.85" fill="none" stroke="#000" stroke-width="2.85"/><circle cx="1306.9" cy="767.9" r="7.85" fill="none" stroke="#000" stroke-width="2.85"/><circle cx="1293.4" cy="842.7" r="7.85" fill="none" stroke="#000" stroke-width="2.85"/><circle cx="1306.9" cy="844.9" r="7.85" fill="none" stroke="#000" stroke-width="2.85"/><circle cx="1320.5" cy="848.8" r="7.85" fill="none" stroke="#000" stroke-width="2.85"/><circle cx="1293.4" cy="859.3" r="7.85" fill="none" stroke="#000" stroke-width="2.85"/><circle cx="1356.7" cy="809" r="7.85" fill="none" stroke="#000" stroke-width="2.85"/><circle cx="1369.9" cy="815.6" r="7.85" fill="none" stroke="#000" stroke-width="2.85"/><circle cx="1383.4" cy="818.3" r="7.85" fill="none" stroke="#000" stroke-width="2.85"/><circle cx="1369.9" cy="831.9" r="7.85" fill="none" stroke="#000" stroke-width="2.85"/><circle cx="1363.1" cy="882.7" r="7.85" fill="none" stroke="#000" stroke-width="2.85"/><circle cx="1376.7" cy="881.3" r="7.85" fill="none" stroke="#000" stroke-width="2.85"/><path d="M979.5 685.1V668.4H1388V685.1" stroke="#000" stroke-width="4.5" fill="none" stroke-linejoin="miter"/><text transform="translate(1183.7 651.7) scale(1 1.04)" font-size="24.6" text-anchor="middle">ns</text></g><g><path d="M209.4 1183.29V1496.81" stroke="#000" stroke-width="3.02" fill="none"/><path d="M207.89 1495.3H676.2" stroke="#000" stroke-width="3.02" fill="none"/><path d="M196.4 1495.3H209.4" stroke="#000" stroke-width="3.02"/><text transform="translate(192.76 1503.83) scale(1 1.04)" font-size="23.3" font-weight="bold" text-anchor="end">0.00</text><path d="M196.4 1456.49H209.4" stroke="#000" stroke-width="3.02"/><text transform="translate(192.76 1465.02) scale(1 1.04)" font-size="23.3" font-weight="bold" text-anchor="end">0.05</text><path d="M196.4 1417.67H209.4" stroke="#000" stroke-width="3.02"/><g transform="translate(192.76 1426.2) scale(1 1.04)"><text font-size="23.3" font-weight="bold" text-anchor="end">0. 0</text><path transform="translate(-25.91 0) scale(0.01137 -0.01137)" d="M460 0L460 930L100 790L100 1015L560 1409L760 1409L760 0Z"/></g><path d="M196.4 1378.86H209.4" stroke="#000" stroke-width="3.02"/><g transform="translate(192.76 1387.39) scale(1 1.04)"><text font-size="23.3" font-weight="bold" text-anchor="end">0. 5</text><path transform="translate(-25.91 0) scale(0.01137 -0.01137)" d="M460 0L460 930L100 790L100 1015L560 1409L760 1409L760 0Z"/></g><path d="M196.4 1340.05H209.4" stroke="#000" stroke-width="3.02"/><text transform="translate(192.76 1348.58) scale(1 1.04)" font-size="23.3" font-weight="bold" text-anchor="end">0.20</text><path d="M196.4 1301.24H209.4" stroke="#000" stroke-width="3.02"/><text transform="translate(192.76 1309.77) scale(1 1.04)" font-size="23.3" font-weight="bold" text-anchor="end">0.25</text><path d="M196.4 1262.42H209.4" stroke="#000" stroke-width="3.02"/><text transform="translate(192.76 1270.95) scale(1 1.04)" font-size="23.3" font-weight="bold" text-anchor="end">0.30</text><path d="M196.4 1223.61H209.4" stroke="#000" stroke-width="3.02"/><text transform="translate(192.76 1232.14) scale(1 1.04)" font-size="23.3" font-weight="bold" text-anchor="end">0.35</text><path d="M196.4 1184.8H209.4" stroke="#000" stroke-width="3.02"/><text transform="translate(192.76 1193.33) scale(1 1.04)" font-size="23.3" font-weight="bold" text-anchor="end">0.40</text><path d="M251.4 1495.3V1508.46" stroke="#000" stroke-width="3.02"/><text transform="translate(259.2 1528.06) rotate(-45) scale(1 1.04)" font-size="23.3" font-weight="bold" text-anchor="end">0</text><path d="M314.67 1495.3V1508.46" stroke="#000" stroke-width="3.02"/><text transform="translate(322.47 1528.06) rotate(-45) scale(1 1.04)" font-size="23.3" font-weight="bold" text-anchor="end">0.005</text><path d="M377.94 1495.3V1508.46" stroke="#000" stroke-width="3.02"/><text transform="translate(385.74 1528.06) rotate(-45) scale(1 1.04)" font-size="23.3" font-weight="bold" text-anchor="end">0.025</text><path d="M441.21 1495.3V1508.46" stroke="#000" stroke-width="3.02"/><g transform="translate(449.01 1528.06) rotate(-45) scale(1 1.04)"><text font-size="23.3" font-weight="bold" text-anchor="end">0. 25</text><path transform="translate(-38.87 0) scale(0.01137 -0.01137)" d="M460 0L460 930L100 790L100 1015L560 1409L760 1409L760 0Z"/></g><path d="M504.48 1495.3V1508.46" stroke="#000" stroke-width="3.02"/><text transform="translate(512.28 1528.06) rotate(-45) scale(1 1.04)" font-size="23.3" font-weight="bold" text-anchor="end">0.625</text><path d="M567.75 1495.3V1508.46" stroke="#000" stroke-width="3.02"/><g transform="translate(575.55 1528.06) rotate(-45) scale(1 1.04)"><text font-size="23.3" font-weight="bold" text-anchor="end">3. 25</text><path transform="translate(-38.87 0) scale(0.01137 -0.01137)" d="M460 0L460 930L100 790L100 1015L560 1409L760 1409L760 0Z"/></g><path d="M631.02 1495.3V1508.46" stroke="#000" stroke-width="3.02"/><g transform="translate(638.82 1528.06) rotate(-45) scale(1 1.04)"><text font-size="23.3" font-weight="bold" text-anchor="end"> 5.625</text><path transform="translate(-71.25 0) scale(0.01137 -0.01137)" d="M460 0L460 930L100 790L100 1015L560 1409L760 1409L760 0Z"/></g><text transform="translate(441.21 1621) scale(1 1.04)" font-size="29.85" font-weight="bold" text-anchor="middle">[Oligomycin] (<tspan font-family="Liberation Serif" font-weight="normal" letter-spacing="2.5">µ</tspan>M)</text><text transform="translate(81.06 1340.05) rotate(-90) scale(1 1.04)" font-size="29.85" font-weight="bold" text-anchor="middle">Dye Reduction  Rate</text><text transform="translate(119.54 1340.05) rotate(-90) scale(1 1.04)" font-size="29.85" font-weight="bold" text-anchor="middle">(<tspan font-family="Liberation Serif" font-weight="normal" letter-spacing="2.5">µ</tspan>M/min)</text><path d="M251.4 1354.7V1389.5 M241 1354.7H261.8 M241 1389.5H261.8" stroke="#000" stroke-width="2.8" fill="none"/><path d="M232.6 1495.3V1374.1H270.2V1495.3" fill="none" stroke="#000" stroke-width="4" stroke-linejoin="miter"/><path d="M314.67 1412.8V1421.2 M304.27 1412.8H325.07 M304.27 1421.2H325.07" stroke="#000" stroke-width="2.8" fill="none"/><path d="M295.87 1495.3V1419H333.47V1495.3" fill="none" stroke="#000" stroke-width="4" stroke-linejoin="miter"/><path d="M377.94 1392.5V1409.1 M367.54 1392.5H388.34 M367.54 1409.1H388.34" stroke="#000" stroke-width="2.8" fill="none"/><path d="M359.14 1495.3V1402.8H396.74V1495.3" fill="none" stroke="#000" stroke-width="4" stroke-linejoin="miter"/><path d="M441.21 1406.5V1417.7 M430.81 1406.5H451.61 M430.81 1417.7H451.61" stroke="#000" stroke-width="2.8" fill="none"/><path d="M422.41 1495.3V1414.1H460.01V1495.3" fill="none" stroke="#000" stroke-width="4" stroke-linejoin="miter"/><path d="M504.48 1408.8V1414.4 M494.08 1408.8H514.88 M494.08 1414.4H514.88" stroke="#000" stroke-width="2.8" fill="none"/><path d="M485.68 1495.3V1413.6H523.28V1495.3" fill="none" stroke="#000" stroke-width="4" stroke-linejoin="miter"/><path d="M567.75 1409.4V1418.6 M557.35 1409.4H578.15 M557.35 1418.6H578.15" stroke="#000" stroke-width="2.8" fill="none"/><path d="M548.95 1495.3V1416H586.55V1495.3" fill="none" stroke="#000" stroke-width="4" stroke-linejoin="miter"/><path d="M631.02 1409.2V1419.8 M620.62 1409.2H641.42 M620.62 1419.8H641.42" stroke="#000" stroke-width="2.8" fill="none"/><path d="M612.22 1495.3V1416.5H649.82V1495.3" fill="none" stroke="#000" stroke-width="4" stroke-linejoin="miter"/><circle cx="246.7" cy="1319.9" r="8.05"/><circle cx="255.9" cy="1317" r="8.05"/><circle cx="246.7" cy="1393.9" r="8.05"/><circle cx="255.9" cy="1397.3" r="8.05"/><circle cx="265.4" cy="1396.1" r="8.05"/><circle cx="239" cy="1408.4" r="8.05"/><circle cx="301.6" cy="1409.1" r="8.05"/><circle cx="314.8" cy="1407.1" r="8.05"/><circle cx="328.7" cy="1409.1" r="8.05"/><circle cx="301.6" cy="1429.1" r="8.05"/><circle cx="314.8" cy="1425.7" r="8.05"/><circle cx="328.7" cy="1427.1" r="8.05"/><circle cx="364.7" cy="1383.1" r="8.05"/><circle cx="378.3" cy="1385.1" r="8.05"/><circle cx="391.8" cy="1386.8" r="8.05"/><circle cx="378.3" cy="1401.2" r="8.05"/><circle cx="384.5" cy="1419.3" r="8.05"/><circle cx="371.5" cy="1430.8" r="8.05"/><circle cx="428.1" cy="1404.3" r="8.05"/><circle cx="454.9" cy="1392.2" r="8.05"/><circle cx="441.2" cy="1411.5" r="8.05"/><circle cx="454.9" cy="1408.7" r="8.05"/><circle cx="428.1" cy="1429.3" r="8.05"/><circle cx="454.9" cy="1425.7" r="8.05"/><circle cx="496.2" cy="1403.9" r="8.05"/><circle cx="507.6" cy="1406.9" r="8.05"/><circle cx="519.1" cy="1406.9" r="8.05"/><circle cx="491.1" cy="1417.9" r="8.05"/><circle cx="501.7" cy="1412.8" r="8.05"/><circle cx="512.7" cy="1418.3" r="8.05"/><circle cx="554.6" cy="1405.3" r="8.05"/><circle cx="563.4" cy="1403.5" r="8.05"/><circle cx="572.2" cy="1404.7" r="8.05"/><circle cx="581" cy="1417.6" r="8.05"/><circle cx="571.3" cy="1423.8" r="8.05"/><circle cx="554.6" cy="1429.9" r="8.05"/><circle cx="631.3" cy="1400" r="8.05"/><circle cx="644.5" cy="1401.7" r="8.05"/><circle cx="618" cy="1410.5" r="8.05"/><circle cx="631.3" cy="1416.4" r="8.05"/><circle cx="644.5" cy="1425.2" r="8.05"/><circle cx="618" cy="1432.6" r="8.05"/><path d="M236.3 1247.3V1225.9H646.4V1247.3" stroke="#000" stroke-width="4.5" fill="none" stroke-linejoin="miter"/><path d="M440.9 1196.1L440.9 1211.1M434.4 1199.85L447.4 1207.35M447.4 1199.85L434.4 1207.35" stroke="#000" stroke-width="3.8" fill="none"/></g><g><path d="M948.5 1183.29V1496.81" stroke="#000" stroke-width="3.02" fill="none"/><path d="M946.99 1495.3H1415" stroke="#000" stroke-width="3.02" fill="none"/><path d="M935.5 1495.3H948.5" stroke="#000" stroke-width="3.02"/><text transform="translate(931.86 1503.83) scale(1 1.04)" font-size="23.3" font-weight="bold" text-anchor="end">0.00</text><path d="M935.5 1456.49H948.5" stroke="#000" stroke-width="3.02"/><text transform="translate(931.86 1465.02) scale(1 1.04)" font-size="23.3" font-weight="bold" text-anchor="end">0.05</text><path d="M935.5 1417.67H948.5" stroke="#000" stroke-width="3.02"/><g transform="translate(931.86 1426.2) scale(1 1.04)"><text font-size="23.3" font-weight="bold" text-anchor="end">0. 0</text><path transform="translate(-25.91 0) scale(0.01137 -0.01137)" d="M460 0L460 930L100 790L100 1015L560 1409L760 1409L760 0Z"/></g><path d="M935.5 1378.86H948.5" stroke="#000" stroke-width="3.02"/><g transform="translate(931.86 1387.39) scale(1 1.04)"><text font-size="23.3" font-weight="bold" text-anchor="end">0. 5</text><path transform="translate(-25.91 0) scale(0.01137 -0.01137)" d="M460 0L460 930L100 790L100 1015L560 1409L760 1409L760 0Z"/></g><path d="M935.5 1340.05H948.5" stroke="#000" stroke-width="3.02"/><text transform="translate(931.86 1348.58) scale(1 1.04)" font-size="23.3" font-weight="bold" text-anchor="end">0.20</text><path d="M935.5 1301.24H948.5" stroke="#000" stroke-width="3.02"/><text transform="translate(931.86 1309.77) scale(1 1.04)" font-size="23.3" font-weight="bold" text-anchor="end">0.25</text><path d="M935.5 1262.42H948.5" stroke="#000" stroke-width="3.02"/><text transform="translate(931.86 1270.95) scale(1 1.04)" font-size="23.3" font-weight="bold" text-anchor="end">0.30</text><path d="M935.5 1223.61H948.5" stroke="#000" stroke-width="3.02"/><text transform="translate(931.86 1232.14) scale(1 1.04)" font-size="23.3" font-weight="bold" text-anchor="end">0.35</text><path d="M935.5 1184.8H948.5" stroke="#000" stroke-width="3.02"/><text transform="translate(931.86 1193.33) scale(1 1.04)" font-size="23.3" font-weight="bold" text-anchor="end">0.40</text><path d="M990.3 1495.3V1508.46" stroke="#000" stroke-width="3.02"/><text transform="translate(998.1 1528.06) rotate(-45) scale(1 1.04)" font-size="23.3" font-weight="bold" text-anchor="end">0</text><path d="M1053.57 1495.3V1508.46" stroke="#000" stroke-width="3.02"/><text transform="translate(1061.37 1528.06) rotate(-45) scale(1 1.04)" font-size="23.3" font-weight="bold" text-anchor="end">0.005</text><path d="M1116.84 1495.3V1508.46" stroke="#000" stroke-width="3.02"/><text transform="translate(1124.64 1528.06) rotate(-45) scale(1 1.04)" font-size="23.3" font-weight="bold" text-anchor="end">0.025</text><path d="M1180.11 1495.3V1508.46" stroke="#000" stroke-width="3.02"/><g transform="translate(1187.91 1528.06) rotate(-45) scale(1 1.04)"><text font-size="23.3" font-weight="bold" text-anchor="end">0. 25</text><path transform="translate(-38.87 0) scale(0.01137 -0.01137)" d="M460 0L460 930L100 790L100 1015L560 1409L760 1409L760 0Z"/></g><path d="M1243.38 1495.3V1508.46" stroke="#000" stroke-width="3.02"/><text transform="translate(1251.18 1528.06) rotate(-45) scale(1 1.04)" font-size="23.3" font-weight="bold" text-anchor="end">0.625</text><path d="M1306.65 1495.3V1508.46" stroke="#000" stroke-width="3.02"/><g transform="translate(1314.45 1528.06) rotate(-45) scale(1 1.04)"><text font-size="23.3" font-weight="bold" text-anchor="end">3. 25</text><path transform="translate(-38.87 0) scale(0.01137 -0.01137)" d="M460 0L460 930L100 790L100 1015L560 1409L760 1409L760 0Z"/></g><path d="M1369.92 1495.3V1508.46" stroke="#000" stroke-width="3.02"/><g transform="translate(1377.72 1528.06) rotate(-45) scale(1 1.04)"><text font-size="23.3" font-weight="bold" text-anchor="end"> 5.625</text><path transform="translate(-71.25 0) scale(0.01137 -0.01137)" d="M460 0L460 930L100 790L100 1015L560 1409L760 1409L760 0Z"/></g><text transform="translate(1180.11 1621) scale(1 1.04)" font-size="29.85" font-weight="bold" text-anchor="middle">[Oligomycin] (<tspan font-family="Liberation Serif" font-weight="normal" letter-spacing="2.5">µ</tspan>M)</text><text transform="translate(820.16 1340.05) rotate(-90) scale(1 1.04)" font-size="29.85" font-weight="bold" text-anchor="middle">Dye Reduction  Rate</text><text transform="translate(858.64 1340.05) rotate(-90) scale(1 1.04)" font-size="29.85" font-weight="bold" text-anchor="middle">(<tspan font-family="Liberation Serif" font-weight="normal" letter-spacing="2.5">µ</tspan>M/min)</text><path d="M990.3 1321.5V1340.5 M979.9 1321.5H1000.7 M979.9 1340.5H1000.7" stroke="#000" stroke-width="2.8" fill="none"/><path d="M971.5 1495.3V1333H1009.1V1495.3" fill="none" stroke="#000" stroke-width="4" stroke-linejoin="miter"/><path d="M1053.57 1395.2V1407.2 M1043.17 1395.2H1063.97 M1043.17 1407.2H1063.97" stroke="#000" stroke-width="2.8" fill="none"/><path d="M1034.77 1495.3V1403.2H1072.37V1495.3" fill="none" stroke="#000" stroke-width="4" stroke-linejoin="miter"/><path d="M1116.84 1380.4V1395.6 M1106.44 1380.4H1127.24 M1106.44 1395.6H1127.24" stroke="#000" stroke-width="2.8" fill="none"/><path d="M1098.04 1495.3V1390H1135.64V1495.3" fill="none" stroke="#000" stroke-width="4" stroke-linejoin="miter"/><path d="M1180.11 1383.1V1400.9 M1169.71 1383.1H1190.51 M1169.71 1400.9H1190.51" stroke="#000" stroke-width="2.8" fill="none"/><path d="M1161.31 1495.3V1394H1198.91V1495.3" fill="none" stroke="#000" stroke-width="4" stroke-linejoin="miter"/><path d="M1243.38 1380V1395 M1232.98 1380H1253.78 M1232.98 1395H1253.78" stroke="#000" stroke-width="2.8" fill="none"/><path d="M1224.58 1495.3V1389.5H1262.18V1495.3" fill="none" stroke="#000" stroke-width="4" stroke-linejoin="miter"/><path d="M1306.65 1373.6V1389.4 M1296.25 1373.6H1317.05 M1296.25 1389.4H1317.05" stroke="#000" stroke-width="2.8" fill="none"/><path d="M1287.85 1495.3V1383.5H1325.45V1495.3" fill="none" stroke="#000" stroke-width="4" stroke-linejoin="miter"/><path d="M1369.92 1369.6V1400.4 M1359.52 1369.6H1380.32 M1359.52 1400.4H1380.32" stroke="#000" stroke-width="2.8" fill="none"/><path d="M1351.12 1495.3V1387H1388.72V1495.3" fill="none" stroke="#000" stroke-width="4" stroke-linejoin="miter"/><circle cx="990.5" cy="1297.6" r="7.85" fill="none" stroke="#000" stroke-width="2.85"/><circle cx="976.9" cy="1315.6" r="7.85" fill="none" stroke="#000" stroke-width="2.85"/><circle cx="1004.3" cy="1326.4" r="7.85" fill="none" stroke="#000" stroke-width="2.85"/><circle cx="976.9" cy="1333.7" r="7.85" fill="none" stroke="#000" stroke-width="2.85"/><circle cx="1003.7" cy="1351.4" r="7.85" fill="none" stroke="#000" stroke-width="2.85"/><circle cx="976.9" cy="1359.1" r="7.85" fill="none" stroke="#000" stroke-width="2.85"/><circle cx="1040.4" cy="1376.8" r="7.85" fill="none" stroke="#000" stroke-width="2.85"/><circle cx="1067" cy="1388.7" r="7.85" fill="none" stroke="#000" stroke-width="2.85"/><circle cx="1040.4" cy="1400.9" r="7.85" fill="none" stroke="#000" stroke-width="2.85"/><circle cx="1053.4" cy="1409.3" r="7.85" fill="none" stroke="#000" stroke-width="2.85"/><circle cx="1067" cy="1412" r="7.85" fill="none" stroke="#000" stroke-width="2.85"/><circle cx="1040.4" cy="1421.2" r="7.85" fill="none" stroke="#000" stroke-width="2.85"/><circle cx="1103.5" cy="1381.1" r="7.85" fill="none" stroke="#000" stroke-width="2.85"/><circle cx="1116.6" cy="1373.8" r="7.85" fill="none" stroke="#000" stroke-width="2.85"/><circle cx="1130.6" cy="1366.7" r="7.85" fill="none" stroke="#000" stroke-width="2.85"/><circle cx="1130.6" cy="1389" r="7.85" fill="none" stroke="#000" stroke-width="2.85"/><circle cx="1123.3" cy="1405.9" r="7.85" fill="none" stroke="#000" stroke-width="2.85"/><circle cx="1109.8" cy="1412" r="7.85" fill="none" stroke="#000" stroke-width="2.85"/><circle cx="1166.7" cy="1375.1" r="7.85" fill="none" stroke="#000" stroke-width="2.85"/><circle cx="1193.5" cy="1364.6" r="7.85" fill="none" stroke="#000" stroke-width="2.85"/><circle cx="1193.5" cy="1386.9" r="7.85" fill="none" stroke="#000" stroke-width="2.85"/><circle cx="1166.7" cy="1395.1" r="7.85" fill="none" stroke="#000" stroke-width="2.85"/><circle cx="1193.5" cy="1409.6" r="7.85" fill="none" stroke="#000" stroke-width="2.85"/><circle cx="1166.7" cy="1423" r="7.85" fill="none" stroke="#000" stroke-width="2.85"/><circle cx="1230.2" cy="1361.6" r="7.85" fill="none" stroke="#000" stroke-width="2.85"/><circle cx="1243.4" cy="1373.4" r="7.85" fill="none" stroke="#000" stroke-width="2.85"/><circle cx="1230.2" cy="1382.2" r="7.85" fill="none" stroke="#000" stroke-width="2.85"/><circle cx="1257.2" cy="1385.2" r="7.85" fill="none" stroke="#000" stroke-width="2.85"/><circle cx="1249.6" cy="1409.5" r="7.85" fill="none" stroke="#000" stroke-width="2.85"/><circle cx="1236.7" cy="1412.7" r="7.85" fill="none" stroke="#000" stroke-width="2.85"/><circle cx="1293.2" cy="1367.2" r="7.85" fill="none" stroke="#000" stroke-width="2.85"/><circle cx="1306.6" cy="1363.7" r="7.85" fill="none" stroke="#000" stroke-width="2.85"/><circle cx="1320.1" cy="1369.8" r="7.85" fill="none" stroke="#000" stroke-width="2.85"/><circle cx="1306.6" cy="1381.3" r="7.85" fill="none" stroke="#000" stroke-width="2.85"/><circle cx="1313.1" cy="1399.8" r="7.85" fill="none" stroke="#000" stroke-width="2.85"/><circle cx="1299.5" cy="1406" r="7.85" fill="none" stroke="#000" stroke-width="2.85"/><circle cx="1383.6" cy="1342.9" r="7.85" fill="none" stroke="#000" stroke-width="2.85"/><circle cx="1356.6" cy="1354.9" r="7.85" fill="none" stroke="#000" stroke-width="2.85"/><circle cx="1383.6" cy="1371.6" r="7.85" fill="none" stroke="#000" stroke-width="2.85"/><circle cx="1356.6" cy="1381.3" r="7.85" fill="none" stroke="#000" stroke-width="2.85"/><circle cx="1370" cy="1414.4" r="7.85" fill="none" stroke="#000" stroke-width="2.85"/><circle cx="1370" cy="1441.2" r="7.85" fill="none" stroke="#000" stroke-width="2.85"/><path d="M979.8 1225.1V1207.8H1388V1225.1" stroke="#000" stroke-width="4.5" fill="none" stroke-linejoin="miter"/><path d="M1183.7 1178.7L1183.7 1193.7M1177.2 1182.45L1190.2 1189.95M1190.2 1182.45L1177.2 1189.95" stroke="#000" stroke-width="3.8" fill="none"/></g><g><path d="M210.4 1780.49V2094.51" stroke="#000" stroke-width="3.02" fill="none"/><path d="M208.89 2093H678.5" stroke="#000" stroke-width="3.02" fill="none"/><path d="M197.4 2093H210.4" stroke="#000" stroke-width="3.02"/><text transform="translate(193.76 2101.53) scale(1 1.04)" font-size="23.3" font-weight="bold" text-anchor="end">0.00</text><path d="M197.4 2054.12H210.4" stroke="#000" stroke-width="3.02"/><text transform="translate(193.76 2062.65) scale(1 1.04)" font-size="23.3" font-weight="bold" text-anchor="end">0.05</text><path d="M197.4 2015.25H210.4" stroke="#000" stroke-width="3.02"/><g transform="translate(193.76 2023.78) scale(1 1.04)"><text font-size="23.3" font-weight="bold" text-anchor="end">0. 0</text><path transform="translate(-25.91 0) scale(0.01137 -0.01137)" d="M460 0L460 930L100 790L100 1015L560 1409L760 1409L760 0Z"/></g><path d="M197.4 1976.38H210.4" stroke="#000" stroke-width="3.02"/><g transform="translate(193.76 1984.9) scale(1 1.04)"><text font-size="23.3" font-weight="bold" text-anchor="end">0. 5</text><path transform="translate(-25.91 0) scale(0.01137 -0.01137)" d="M460 0L460 930L100 790L100 1015L560 1409L760 1409L760 0Z"/></g><path d="M197.4 1937.5H210.4" stroke="#000" stroke-width="3.02"/><text transform="translate(193.76 1946.03) scale(1 1.04)" font-size="23.3" font-weight="bold" text-anchor="end">0.20</text><path d="M197.4 1898.62H210.4" stroke="#000" stroke-width="3.02"/><text transform="translate(193.76 1907.15) scale(1 1.04)" font-size="23.3" font-weight="bold" text-anchor="end">0.25</text><path d="M197.4 1859.75H210.4" stroke="#000" stroke-width="3.02"/><text transform="translate(193.76 1868.28) scale(1 1.04)" font-size="23.3" font-weight="bold" text-anchor="end">0.30</text><path d="M197.4 1820.88H210.4" stroke="#000" stroke-width="3.02"/><text transform="translate(193.76 1829.4) scale(1 1.04)" font-size="23.3" font-weight="bold" text-anchor="end">0.35</text><path d="M197.4 1782H210.4" stroke="#000" stroke-width="3.02"/><text transform="translate(193.76 1790.53) scale(1 1.04)" font-size="23.3" font-weight="bold" text-anchor="end">0.40</text><path d="M252.4 2093V2106.16" stroke="#000" stroke-width="3.02"/><text transform="translate(260.2 2125.76) rotate(-45) scale(1 1.04)" font-size="23.3" font-weight="bold" text-anchor="end">0</text><path d="M315.83 2093V2106.16" stroke="#000" stroke-width="3.02"/><text transform="translate(323.63 2125.76) rotate(-45) scale(1 1.04)" font-size="23.3" font-weight="bold" text-anchor="end">0.005</text><path d="M379.26 2093V2106.16" stroke="#000" stroke-width="3.02"/><text transform="translate(387.06 2125.76) rotate(-45) scale(1 1.04)" font-size="23.3" font-weight="bold" text-anchor="end">0.025</text><path d="M442.69 2093V2106.16" stroke="#000" stroke-width="3.02"/><g transform="translate(450.49 2125.76) rotate(-45) scale(1 1.04)"><text font-size="23.3" font-weight="bold" text-anchor="end">0. 25</text><path transform="translate(-38.87 0) scale(0.01137 -0.01137)" d="M460 0L460 930L100 790L100 1015L560 1409L760 1409L760 0Z"/></g><path d="M506.12 2093V2106.16" stroke="#000" stroke-width="3.02"/><text transform="translate(513.92 2125.76) rotate(-45) scale(1 1.04)" font-size="23.3" font-weight="bold" text-anchor="end">0.625</text><path d="M569.55 2093V2106.16" stroke="#000" stroke-width="3.02"/><g transform="translate(577.35 2125.76) rotate(-45) scale(1 1.04)"><text font-size="23.3" font-weight="bold" text-anchor="end">3. 25</text><path transform="translate(-38.87 0) scale(0.01137 -0.01137)" d="M460 0L460 930L100 790L100 1015L560 1409L760 1409L760 0Z"/></g><path d="M632.98 2093V2106.16" stroke="#000" stroke-width="3.02"/><g transform="translate(640.78 2125.76) rotate(-45) scale(1 1.04)"><text font-size="23.3" font-weight="bold" text-anchor="end"> 5.625</text><path transform="translate(-71.25 0) scale(0.01137 -0.01137)" d="M460 0L460 930L100 790L100 1015L560 1409L760 1409L760 0Z"/></g><text transform="translate(442.69 2217) scale(1 1.04)" font-size="29.85" font-weight="bold" text-anchor="middle">[Menadione] (mM)</text><text transform="translate(82.06 1937.5) rotate(-90) scale(1 1.04)" font-size="29.85" font-weight="bold" text-anchor="middle">Dye Reduction  Rate</text><text transform="translate(120.54 1937.5) rotate(-90) scale(1 1.04)" font-size="29.85" font-weight="bold" text-anchor="middle">(<tspan font-family="Liberation Serif" font-weight="normal" letter-spacing="2.5">µ</tspan>M/min)</text><path d="M252.4 1952.1V1987.1 M242 1952.1H262.8 M242 1987.1H262.8" stroke="#000" stroke-width="2.8" fill="none"/><path d="M233.6 2093V1971.6H271.2V2093" fill="none" stroke="#000" stroke-width="4" stroke-linejoin="miter"/><path d="M315.83 1977.3V1996.7 M305.43 1977.3H326.23 M305.43 1996.7H326.23" stroke="#000" stroke-width="2.8" fill="none"/><path d="M297.03 2093V1989H334.63V2093" fill="none" stroke="#000" stroke-width="4" stroke-linejoin="miter"/><path d="M379.26 1974.7V1992.3 M368.86 1974.7H389.66 M368.86 1992.3H389.66" stroke="#000" stroke-width="2.8" fill="none"/><path d="M360.46 2093V1985.5H398.06V2093" fill="none" stroke="#000" stroke-width="4" stroke-linejoin="miter"/><path d="M442.69 1977.3V2001.7 M432.29 1977.3H453.09 M432.29 2001.7H453.09" stroke="#000" stroke-width="2.8" fill="none"/><path d="M423.89 2093V1991.5H461.49V2093" fill="none" stroke="#000" stroke-width="4" stroke-linejoin="miter"/><path d="M506.12 1977V2002 M495.72 1977H516.52 M495.72 2002H516.52" stroke="#000" stroke-width="2.8" fill="none"/><path d="M487.32 2093V1991.5H524.92V2093" fill="none" stroke="#000" stroke-width="4" stroke-linejoin="miter"/><path d="M569.55 1987.3V2006.7 M559.15 1987.3H579.95 M559.15 2006.7H579.95" stroke="#000" stroke-width="2.8" fill="none"/><path d="M550.75 2093V1999H588.35V2093" fill="none" stroke="#000" stroke-width="4" stroke-linejoin="miter"/><path d="M632.98 2028.2V2070.2 M622.58 2028.2H643.38 M622.58 2070.2H643.38" stroke="#000" stroke-width="2.8" fill="none"/><path d="M614.18 2093V2051.2H651.78V2093" fill="none" stroke="#000" stroke-width="4" stroke-linejoin="miter"/><circle cx="247.9" cy="1917" r="8.05"/><circle cx="257.2" cy="1914" r="8.05"/><circle cx="247.9" cy="1991.5" r="8.05"/><circle cx="256.9" cy="1995.2" r="8.05"/><circle cx="266" cy="1993.2" r="8.05"/><circle cx="239" cy="2006.2" r="8.05"/><circle cx="302.9" cy="1967.3" r="8.05"/><circle cx="329.7" cy="1952.1" r="8.05"/><circle cx="302.9" cy="1984.2" r="8.05"/><circle cx="329.7" cy="1982.5" r="8.05"/><circle cx="329.7" cy="2013.9" r="8.05"/><circle cx="302.9" cy="2021" r="8.05"/><circle cx="366.4" cy="1974.1" r="8.05"/><circle cx="379.1" cy="1973.2" r="8.05"/><circle cx="392.6" cy="1958.3" r="8.05"/><circle cx="392.6" cy="1976.6" r="8.05"/><circle cx="385.9" cy="2002" r="8.05"/><circle cx="372.7" cy="2016.9" r="8.05"/><circle cx="429.7" cy="1966.5" r="8.05"/><circle cx="456.5" cy="1956.1" r="8.05"/><circle cx="429.7" cy="1985.5" r="8.05"/><circle cx="456.5" cy="1977.2" r="8.05"/><circle cx="429.7" cy="2026.1" r="8.05"/><circle cx="456.5" cy="2024.6" r="8.05"/><circle cx="493.2" cy="1964.7" r="8.05"/><circle cx="520" cy="1951.1" r="8.05"/><circle cx="520" cy="1983.7" r="8.05"/><circle cx="493.2" cy="1991.7" r="8.05"/><circle cx="506.4" cy="2015.8" r="8.05"/><circle cx="506.4" cy="2031.3" r="8.05"/><circle cx="556.6" cy="1966.5" r="8.05"/><circle cx="583.6" cy="1975.3" r="8.05"/><circle cx="556.6" cy="1989.9" r="8.05"/><circle cx="556.6" cy="2008.4" r="8.05"/><circle cx="583.6" cy="2015.8" r="8.05"/><circle cx="556.6" cy="2025.2" r="8.05"/><circle cx="637.8" cy="1977.9" r="8.05"/><circle cx="628.8" cy="1989.3" r="8.05"/><circle cx="628.6" cy="2075.5" r="8.05"/><circle cx="619.5" cy="2085.6" r="8.05"/><circle cx="638" cy="2084.3" r="8.05"/><circle cx="647.8" cy="2083.7" r="8.05"/><path d="M236.7 1844.1V1823H584.8V1844.1" stroke="#000" stroke-width="4.5" fill="none" stroke-linejoin="miter"/><text transform="translate(410.6 1807) scale(1 1.04)" font-size="24.6" text-anchor="middle">ns</text><path d="M613 1837.1V1823H648.4V1837.1" stroke="#000" stroke-width="4.5" fill="none" stroke-linejoin="miter"/><path d="M629.9 1793.1L629.9 1808.1M623.4 1796.85L636.4 1804.35M636.4 1796.85L623.4 1804.35" stroke="#000" stroke-width="3.8" fill="none"/></g><g><path d="M948.5 1780.49V2094.51" stroke="#000" stroke-width="3.02" fill="none"/><path d="M946.99 2093H1415.7" stroke="#000" stroke-width="3.02" fill="none"/><path d="M935.5 2093H948.5" stroke="#000" stroke-width="3.02"/><text transform="translate(931.86 2101.53) scale(1 1.04)" font-size="23.3" font-weight="bold" text-anchor="end">0.00</text><path d="M935.5 2054.12H948.5" stroke="#000" stroke-width="3.02"/><text transform="translate(931.86 2062.65) scale(1 1.04)" font-size="23.3" font-weight="bold" text-anchor="end">0.05</text><path d="M935.5 2015.25H948.5" stroke="#000" stroke-width="3.02"/><g transform="translate(931.86 2023.78) scale(1 1.04)"><text font-size="23.3" font-weight="bold" text-anchor="end">0. 0</text><path transform="translate(-25.91 0) scale(0.01137 -0.01137)" d="M460 0L460 930L100 790L100 1015L560 1409L760 1409L760 0Z"/></g><path d="M935.5 1976.38H948.5" stroke="#000" stroke-width="3.02"/><g transform="translate(931.86 1984.9) scale(1 1.04)"><text font-size="23.3" font-weight="bold" text-anchor="end">0. 5</text><path transform="translate(-25.91 0) scale(0.01137 -0.01137)" d="M460 0L460 930L100 790L100 1015L560 1409L760 1409L760 0Z"/></g><path d="M935.5 1937.5H948.5" stroke="#000" stroke-width="3.02"/><text transform="translate(931.86 1946.03) scale(1 1.04)" font-size="23.3" font-weight="bold" text-anchor="end">0.20</text><path d="M935.5 1898.62H948.5" stroke="#000" stroke-width="3.02"/><text transform="translate(931.86 1907.15) scale(1 1.04)" font-size="23.3" font-weight="bold" text-anchor="end">0.25</text><path d="M935.5 1859.75H948.5" stroke="#000" stroke-width="3.02"/><text transform="translate(931.86 1868.28) scale(1 1.04)" font-size="23.3" font-weight="bold" text-anchor="end">0.30</text><path d="M935.5 1820.88H948.5" stroke="#000" stroke-width="3.02"/><text transform="translate(931.86 1829.4) scale(1 1.04)" font-size="23.3" font-weight="bold" text-anchor="end">0.35</text><path d="M935.5 1782H948.5" stroke="#000" stroke-width="3.02"/><text transform="translate(931.86 1790.53) scale(1 1.04)" font-size="23.3" font-weight="bold" text-anchor="end">0.40</text><path d="M990.4 2093V2106.16" stroke="#000" stroke-width="3.02"/><text transform="translate(998.2 2125.76) rotate(-45) scale(1 1.04)" font-size="23.3" font-weight="bold" text-anchor="end">0</text><path d="M1053.82 2093V2106.16" stroke="#000" stroke-width="3.02"/><text transform="translate(1061.62 2125.76) rotate(-45) scale(1 1.04)" font-size="23.3" font-weight="bold" text-anchor="end">0.005</text><path d="M1117.24 2093V2106.16" stroke="#000" stroke-width="3.02"/><text transform="translate(1125.04 2125.76) rotate(-45) scale(1 1.04)" font-size="23.3" font-weight="bold" text-anchor="end">0.025</text><path d="M1180.66 2093V2106.16" stroke="#000" stroke-width="3.02"/><g transform="translate(1188.46 2125.76) rotate(-45) scale(1 1.04)"><text font-size="23.3" font-weight="bold" text-anchor="end">0. 25</text><path transform="translate(-38.87 0) scale(0.01137 -0.01137)" d="M460 0L460 930L100 790L100 1015L560 1409L760 1409L760 0Z"/></g><path d="M1244.08 2093V2106.16" stroke="#000" stroke-width="3.02"/><text transform="translate(1251.88 2125.76) rotate(-45) scale(1 1.04)" font-size="23.3" font-weight="bold" text-anchor="end">0.625</text><path d="M1307.5 2093V2106.16" stroke="#000" stroke-width="3.02"/><g transform="translate(1315.3 2125.76) rotate(-45) scale(1 1.04)"><text font-size="23.3" font-weight="bold" text-anchor="end">3. 25</text><path transform="translate(-38.87 0) scale(0.01137 -0.01137)" d="M460 0L460 930L100 790L100 1015L560 1409L760 1409L760 0Z"/></g><path d="M1370.92 2093V2106.16" stroke="#000" stroke-width="3.02"/><g transform="translate(1378.72 2125.76) rotate(-45) scale(1 1.04)"><text font-size="23.3" font-weight="bold" text-anchor="end"> 5.625</text><path transform="translate(-71.25 0) scale(0.01137 -0.01137)" d="M460 0L460 930L100 790L100 1015L560 1409L760 1409L760 0Z"/></g><text transform="translate(1180.66 2217) scale(1 1.04)" font-size="29.85" font-weight="bold" text-anchor="middle">[Menadione] (mM)</text><text transform="translate(820.16 1937.5) rotate(-90) scale(1 1.04)" font-size="29.85" font-weight="bold" text-anchor="middle">Dye Reduction  Rate</text><text transform="translate(858.64 1937.5) rotate(-90) scale(1 1.04)" font-size="29.85" font-weight="bold" text-anchor="middle">(<tspan font-family="Liberation Serif" font-weight="normal" letter-spacing="2.5">µ</tspan>M/min)</text><path d="M990.4 1918.5V1936.5 M980 1918.5H1000.8 M980 1936.5H1000.8" stroke="#000" stroke-width="2.8" fill="none"/><path d="M971.6 2093V1929.5H1009.2V2093" fill="none" stroke="#000" stroke-width="4" stroke-linejoin="miter"/><path d="M1053.82 1942.8V1986.4 M1043.42 1942.8H1064.22 M1043.42 1986.4H1064.22" stroke="#000" stroke-width="2.8" fill="none"/><path d="M1035.02 2093V1966.6H1072.62V2093" fill="none" stroke="#000" stroke-width="4" stroke-linejoin="miter"/><path d="M1117.24 1926.9V1971.7 M1106.84 1926.9H1127.64 M1106.84 1971.7H1127.64" stroke="#000" stroke-width="2.8" fill="none"/><path d="M1098.44 2093V1951.3H1136.04V2093" fill="none" stroke="#000" stroke-width="4" stroke-linejoin="miter"/><path d="M1180.66 1922.3V1966.3 M1170.26 1922.3H1191.06 M1170.26 1966.3H1191.06" stroke="#000" stroke-width="2.8" fill="none"/><path d="M1161.86 2093V1946.3H1199.46V2093" fill="none" stroke="#000" stroke-width="4" stroke-linejoin="miter"/><path d="M1244.08 1977V2007 M1233.68 1977H1254.48 M1233.68 2007H1254.48" stroke="#000" stroke-width="2.8" fill="none"/><path d="M1225.28 2093V1994H1262.88V2093" fill="none" stroke="#000" stroke-width="4" stroke-linejoin="miter"/><path d="M1307.5 2080V2085 M1297.1 2080H1317.9 M1297.1 2085H1317.9" stroke="#000" stroke-width="2.8" fill="none"/><path d="M1288.7 2093V2084.5H1326.3V2093" fill="none" stroke="#000" stroke-width="4" stroke-linejoin="miter"/><path d="M1370.92 2081.2V2084.8 M1360.52 2081.2H1381.32 M1360.52 2084.8H1381.32" stroke="#000" stroke-width="2.8" fill="none"/><path d="M1352.12 2093V2085H1389.72V2093" fill="none" stroke="#000" stroke-width="4" stroke-linejoin="miter"/><circle cx="990.3" cy="1894.1" r="7.85" fill="none" stroke="#000" stroke-width="2.85"/><circle cx="977.3" cy="1912.7" r="7.85" fill="none" stroke="#000" stroke-width="2.85"/><circle cx="1004.1" cy="1922.8" r="7.85" fill="none" stroke="#000" stroke-width="2.85"/><circle cx="977.3" cy="1930.4" r="7.85" fill="none" stroke="#000" stroke-width="2.85"/><circle cx="1004.1" cy="1948.4" r="7.85" fill="none" stroke="#000" stroke-width="2.85"/><circle cx="976.7" cy="1956.8" r="7.85" fill="none" stroke="#000" stroke-width="2.85"/><circle cx="1053.8" cy="1889.3" r="7.85" fill="none" stroke="#000" stroke-width="2.85"/><circle cx="1053.8" cy="1907.5" r="7.85" fill="none" stroke="#000" stroke-width="2.85"/><circle cx="1067.9" cy="1981.5" r="7.85" fill="none" stroke="#000" stroke-width="2.85"/><circle cx="1040.2" cy="1987.1" r="7.85" fill="none" stroke="#000" stroke-width="2.85"/><circle cx="1067.9" cy="2009.7" r="7.85" fill="none" stroke="#000" stroke-width="2.85"/><circle cx="1040.2" cy="2012.7" r="7.85" fill="none" stroke="#000" stroke-width="2.85"/><circle cx="1110.2" cy="1880.5" r="7.85" fill="none" stroke="#000" stroke-width="2.85"/><circle cx="1124" cy="1877.5" r="7.85" fill="none" stroke="#000" stroke-width="2.85"/><circle cx="1130.7" cy="1972.2" r="7.85" fill="none" stroke="#000" stroke-width="2.85"/><circle cx="1116.9" cy="1981.5" r="7.85" fill="none" stroke="#000" stroke-width="2.85"/><circle cx="1130.7" cy="1990.3" r="7.85" fill="none" stroke="#000" stroke-width="2.85"/><circle cx="1103.7" cy="1993.3" r="7.85" fill="none" stroke="#000" stroke-width="2.85"/><circle cx="1167.7" cy="1881" r="7.85" fill="none" stroke="#000" stroke-width="2.85"/><circle cx="1194.1" cy="1870.4" r="7.85" fill="none" stroke="#000" stroke-width="2.85"/><circle cx="1194.1" cy="1959.8" r="7.85" fill="none" stroke="#000" stroke-width="2.85"/><circle cx="1167.7" cy="1974.8" r="7.85" fill="none" stroke="#000" stroke-width="2.85"/><circle cx="1194.1" cy="1983.6" r="7.85" fill="none" stroke="#000" stroke-width="2.85"/><circle cx="1167.7" cy="1995.6" r="7.85" fill="none" stroke="#000" stroke-width="2.85"/><circle cx="1237.6" cy="1949.2" r="7.85" fill="none" stroke="#000" stroke-width="2.85"/><circle cx="1250.8" cy="1960.3" r="7.85" fill="none" stroke="#000" stroke-width="2.85"/><circle cx="1230.5" cy="1992.4" r="7.85" fill="none" stroke="#000" stroke-width="2.85"/><circle cx="1243.7" cy="1999.8" r="7.85" fill="none" stroke="#000" stroke-width="2.85"/><circle cx="1257.8" cy="1993.8" r="7.85" fill="none" stroke="#000" stroke-width="2.85"/><circle cx="1243.7" cy="2055" r="7.85" fill="none" stroke="#000" stroke-width="2.85"/><circle cx="1299.5" cy="2075.9" r="7.85" fill="none" stroke="#000" stroke-width="2.85"/><circle cx="1291.4" cy="2083" r="7.85" fill="none" stroke="#000" stroke-width="2.85"/><circle cx="1308.8" cy="2080.1" r="7.85" fill="none" stroke="#000" stroke-width="2.85"/><circle cx="1321.9" cy="2080.9" r="7.85" fill="none" stroke="#000" stroke-width="2.85"/><circle cx="1315.5" cy="2088.1" r="7.85" fill="none" stroke="#000" stroke-width="2.85"/><circle cx="1295.2" cy="2086.4" r="7.85" fill="none" stroke="#000" stroke-width="2.85"/><circle cx="1355.3" cy="2082.6" r="7.85" fill="none" stroke="#000" stroke-width="2.85"/><circle cx="1362.5" cy="2081.4" r="7.85" fill="none" stroke="#000" stroke-width="2.85"/><circle cx="1373.1" cy="2080.5" r="7.85" fill="none" stroke="#000" stroke-width="2.85"/><circle cx="1385.8" cy="2081.4" r="7.85" fill="none" stroke="#000" stroke-width="2.85"/><circle cx="1378.1" cy="2089.4" r="7.85" fill="none" stroke="#000" stroke-width="2.85"/><circle cx="1368" cy="2085.6" r="7.85" fill="none" stroke="#000" stroke-width="2.85"/><path d="M979.5 1820.8V1804.1H1195.7V1820.8" stroke="#000" stroke-width="4.5" fill="none" stroke-linejoin="miter"/><text transform="translate(1087.6 1788.4) scale(1 1.04)" font-size="24.6" text-anchor="middle">ns</text><path d="M1229.3 1819.2V1804.1H1398.8V1819.2" stroke="#000" stroke-width="4.5" fill="none" stroke-linejoin="miter"/><path d="M1313.5 1776.3L1313.5 1791.3M1307 1780.05L1320 1787.55M1320 1780.05L1307 1787.55" stroke="#000" stroke-width="3.8" fill="none"/></g></svg></body></html>
